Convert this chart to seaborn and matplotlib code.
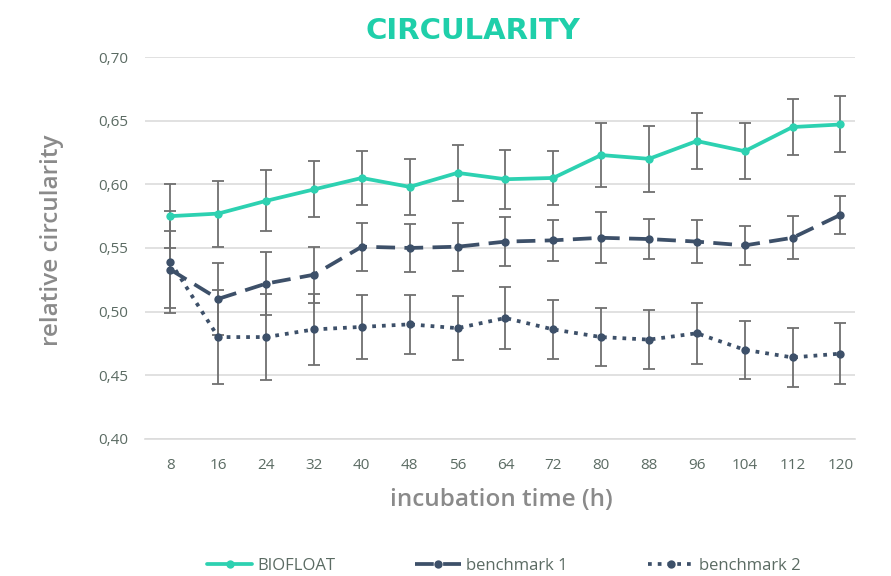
import numpy as np
import pandas as pd
import matplotlib
matplotlib.use('Agg')
import matplotlib.pyplot as plt
import seaborn as sns

hours = [8, 16, 24, 32, 40, 48, 56, 64, 72, 80, 88, 96, 104, 112, 120]

biofloat = [0.575, 0.577, 0.587, 0.596, 0.605, 0.598, 0.609, 0.604, 0.605, 0.623, 0.620, 0.634, 0.626, 0.645, 0.647]
biofloat_err = [0.025, 0.026, 0.024, 0.022, 0.021, 0.022, 0.022, 0.023, 0.021, 0.025, 0.026, 0.022, 0.022, 0.022, 0.022]

bench1 = [0.533, 0.510, 0.522, 0.529, 0.551, 0.550, 0.551, 0.555, 0.556, 0.558, 0.557, 0.555, 0.552, 0.558, 0.576]
bench1_err = [0.030, 0.028, 0.025, 0.022, 0.019, 0.019, 0.019, 0.019, 0.016, 0.020, 0.016, 0.017, 0.015, 0.017, 0.015]

bench2 = [0.539, 0.480, 0.480, 0.486, 0.488, 0.490, 0.487, 0.495, 0.486, 0.480, 0.478, 0.483, 0.470, 0.464, 0.467]
bench2_err = [0.040, 0.037, 0.034, 0.028, 0.025, 0.023, 0.025, 0.024, 0.023, 0.023, 0.023, 0.024, 0.023, 0.023, 0.024]

series_names = ['BIOFLOAT', 'benchmark 1', 'benchmark 2']

df = pd.DataFrame({
    'hours': hours * 3,
    'value': biofloat + bench1 + bench2,
    'err': biofloat_err + bench1_err + bench2_err,
    'series': np.repeat(series_names, len(hours)),
})

teal = '#2dd1b1'
slate = '#3d5069'
palette = {'BIOFLOAT': teal, 'benchmark 1': slate, 'benchmark 2': slate}
dashes = {'BIOFLOAT': '', 'benchmark 1': (5, 2.5), 'benchmark 2': (1, 1.6)}

sns.set_style('white')
plt.rcParams['font.family'] = ['Open Sans', 'DejaVu Sans']

fig = plt.figure(figsize=(8.91, 5.76), dpi=100)
ax = fig.add_axes([0.163, 0.238, 0.797, 0.663])

# error bars first so lines sit on top
for name in series_names:
    d = df[df['series'] == name]
    ax.errorbar(d['hours'], d['value'], yerr=d['err'], fmt='none',
                ecolor='#707070', elinewidth=1.3, capsize=4, capthick=1.3, zorder=2)

sns.lineplot(data=df, x='hours', y='value', hue='series', style='series',
             palette=palette, dashes=dashes, markers={'BIOFLOAT': 'o', 'benchmark 1': 'o', 'benchmark 2': 'o'},
             markersize=6, markeredgewidth=0, linewidth=2.7, ax=ax, zorder=3, legend=True)

ax.set_ylim(0.40, 0.70)
ax.set_yticks(np.arange(0.40, 0.701, 0.05))
ax.set_yticklabels([f'{v:.2f}'.replace('.', ',') for v in np.arange(0.40, 0.701, 0.05)])
ax.set_xlim(3.8, 122.5)
ax.set_xticks(hours)
ax.set_xticklabels([str(h) for h in hours])

ax.grid(axis='y', color='#dcdcdc', linewidth=1.2)
ax.grid(axis='x', visible=False)
for s in ['top', 'right', 'left']:
    ax.spines[s].set_visible(False)
ax.spines['bottom'].set_color('#dcdcdc')
ax.spines['bottom'].set_linewidth(1.2)
ax.tick_params(axis='both', length=0, labelsize=11, colors='#5b6b63')
ax.tick_params(axis='x', pad=13.5)
ax.tick_params(axis='y', pad=12)

ax.set_xlabel('')
ax.set_ylabel('')
fig.text(501 / 891, 1 - 500 / 576, 'incubation time (h)', fontsize=17.5, color='#8a8a8a',
         fontweight='semibold', ha='center', va='center')
fig.text(52 / 891, 1 - 240 / 576, 'relative circularity', fontsize=17.5, color='#8a8a8a',
         fontweight='semibold', ha='center', va='center', rotation=90)
fig.text(473 / 891, 1 - 31 / 576, 'CIRCULARITY', fontsize=21, fontweight='bold', color='#1fcfaa',
         family='DejaVu Sans', ha='center', va='center')

handles, labels = ax.get_legend_handles_labels()
ax.get_legend().remove()
fig.legend(handles, labels, loc='center', bbox_to_anchor=(0.565, 0.018), ncol=3,
           frameon=False, fontsize=12, handlelength=2.75, columnspacing=4.8, handletextpad=0.3,
           labelcolor='#5b6b63')

fig.savefig('out.png', dpi=100)
